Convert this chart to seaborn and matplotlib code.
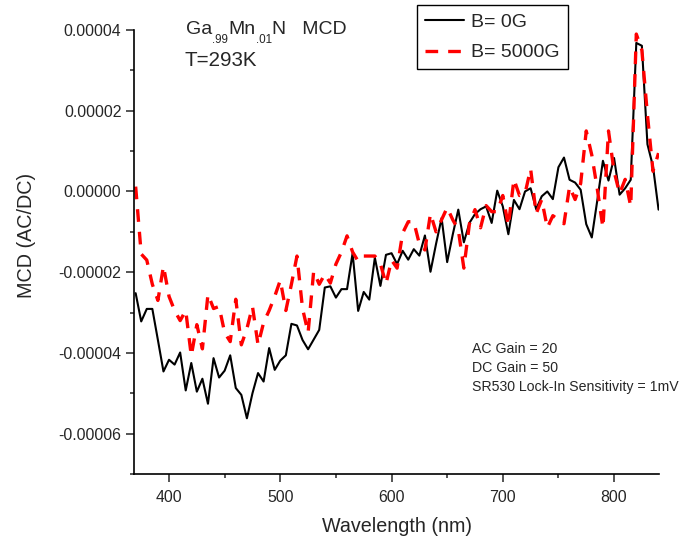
import numpy as np
import pandas as pd
import matplotlib
matplotlib.use("Agg")
import matplotlib.pyplot as plt
import seaborn as sns
from matplotlib.ticker import FormatStrFormatter, MultipleLocator

# wavelength grid (nm)
wavelength = list(range(370, 845, 5))

# MCD values, in units of 1e-5
mcd_0g = [
    -2.52, -3.22, -2.91, -2.91, -3.68, -4.46, -4.17, -4.29, -3.99, -4.93,
    -4.25, -4.96, -4.64, -5.26, -4.13, -4.61, -4.44, -4.06, -4.87, -5.04,
    -5.62, -5.00, -4.50, -4.71, -3.88, -4.42, -4.19, -4.06, -3.28, -3.32,
    -3.68, -3.91, -3.67, -3.43, -2.38, -2.35, -2.63, -2.42, -2.42, -1.53,
    -2.96, -2.49, -2.68, -1.64, -2.34, -1.57, -1.53, -1.80, -1.47, -1.69,
    -1.43, -1.59, -1.09, -1.99, -1.30, -0.66, -1.75, -1.07, -0.45, -1.26,
    -0.78, -0.56, -0.44, -0.37, -0.78, 0.02, -0.37, -1.06, -0.21, -0.44,
    0.00, 0.08, -0.44, -0.12, 0.00, -0.19, 0.60, 0.84, 0.29, 0.22,
    0.04, -0.81, -1.14, -0.21, 0.76, 0.27, 0.83, -0.08, 0.08, 0.29,
    3.68, 3.61, 1.17, 0.62, -0.45,
]
mcd_5000g = [
    0.12, -1.55, -1.70, -2.30, -2.70, -1.85, -2.60, -2.95, -3.20, -2.95,
    -4.07, -3.30, -3.90, -2.55, -2.90, -2.85, -3.50, -3.72, -2.67, -3.80,
    -3.40, -2.85, -3.80, -3.25, -2.95, -2.60, -2.20, -2.95, -2.30, -1.60,
    -2.90, -3.50, -1.98, -2.30, -2.05, -2.27, -1.80, -1.50, -1.10, -1.50,
    -1.73, -1.60, -1.60, -1.60, -1.79, -2.29, -1.70, -1.90, -1.03, -0.75,
    -0.75, -1.30, -1.45, -0.55, -1.00, -0.70, -0.40, -0.70, -0.95, -1.90,
    -0.80, -0.45, -0.90, -0.35, -0.50, -0.50, -0.10, -0.85, 0.30, -0.10,
    -0.05, 0.56, -0.55, -0.20, -0.90, -0.60, -0.70, -0.80, 0.12, -0.20,
    0.20, 1.50, 0.90, 0.05, -0.90, 1.50, 0.50, -0.05, 0.30, -0.37,
    3.90, 3.50, 1.90, 0.50, 0.95,
]

labels = ["B= 0G", "B= 5000G"]
notes = ["AC Gain = 20", "DC Gain = 50", "SR530 Lock-In Sensitivity = 1mV"]
# sample name pieces: (text, is_subscript)
title_parts = [("Ga", False), (".99", True), ("Mn", False), (".01", True), ("N   MCD", False)]

df = pd.DataFrame({
    "wl": wavelength * 2,
    "mcd": np.array(mcd_0g + mcd_5000g) * 1e-5,
    "field": [labels[0]] * len(wavelength) + [labels[1]] * len(wavelength),
})

sns.set_style("ticks")
plt.rcParams["font.family"] = ["Liberation Sans", "DejaVu Sans"]

fig = plt.figure(figsize=(6.96, 5.36), dpi=100)
ax = fig.add_axes([0.1925, 0.1157, 0.7545, 0.8283])

sns.lineplot(data=df[df.field == labels[0]], x="wl", y="mcd", ax=ax,
             color="black", linewidth=1.5, label=labels[0])
sns.lineplot(data=df[df.field == labels[1]], x="wl", y="mcd", ax=ax,
             color="red", linewidth=2.4, label=labels[1])
ax.lines[1].set_dashes((3.8, 3.0))

ax.set_xlim(368.5, 840.5)
ax.set_ylim(-0.00007, 0.00004)
ax.xaxis.set_major_locator(MultipleLocator(100))
ax.xaxis.set_minor_locator(MultipleLocator(50))
ax.yaxis.set_major_locator(MultipleLocator(0.00002))
ax.yaxis.set_minor_locator(MultipleLocator(0.00001))
ax.yaxis.set_major_formatter(FormatStrFormatter("%.5f"))
ax.tick_params(which="major", length=5.5, width=1.1, labelsize=11.4, direction="out")
ax.tick_params(which="minor", length=3, width=1.1, direction="out")
ax.tick_params(axis="x", which="major", pad=6)

sns.despine(ax=ax)
for s in ["left", "bottom"]:
    ax.spines[s].set_linewidth(1.2)
    ax.spines[s].set_color("black")

ax.set_xlabel("Wavelength (nm)", fontsize=14.2, labelpad=9)
ax.set_ylabel("MCD (AC/DC)", fontsize=14.2)
ax.yaxis.set_label_coords(-0.186, 0.538)

# sample name with subscripts, chained piece by piece
prev = ax.text(0.099, 0.991, title_parts[0][0], transform=ax.transAxes,
               fontsize=14, va="baseline")
prev_sub = False
for txt, sub in title_parts[1:]:
    dy = -5.5 if sub else (5.5 if prev_sub else 0)
    prev = ax.annotate(txt, xy=(1, 0), xycoords=prev, xytext=(0.2, dy),
                       textcoords="offset points", va="bottom",
                       fontsize=8.4 if sub else 14)
    prev_sub = sub

ax.text(0.097, 0.919, "T=293K", transform=ax.transAxes, fontsize=14.8, va="baseline")

for i, t in enumerate(notes):
    ax.text(0.643, 0.281 - i * 0.0428, t, transform=ax.transAxes,
            fontsize=10.2, va="center")

leg = ax.legend(loc="upper left", bbox_to_anchor=(0.539, 1.056), borderaxespad=0,
                fontsize=14, frameon=True, fancybox=False, handlelength=2.0,
                labelspacing=0.68, borderpad=0.4, handletextpad=0.4)
leg.get_frame().set_edgecolor("black")
leg.get_frame().set_linewidth(1.0)
leg.get_frame().set_alpha(1)

fig.savefig("out.png", dpi=100)
